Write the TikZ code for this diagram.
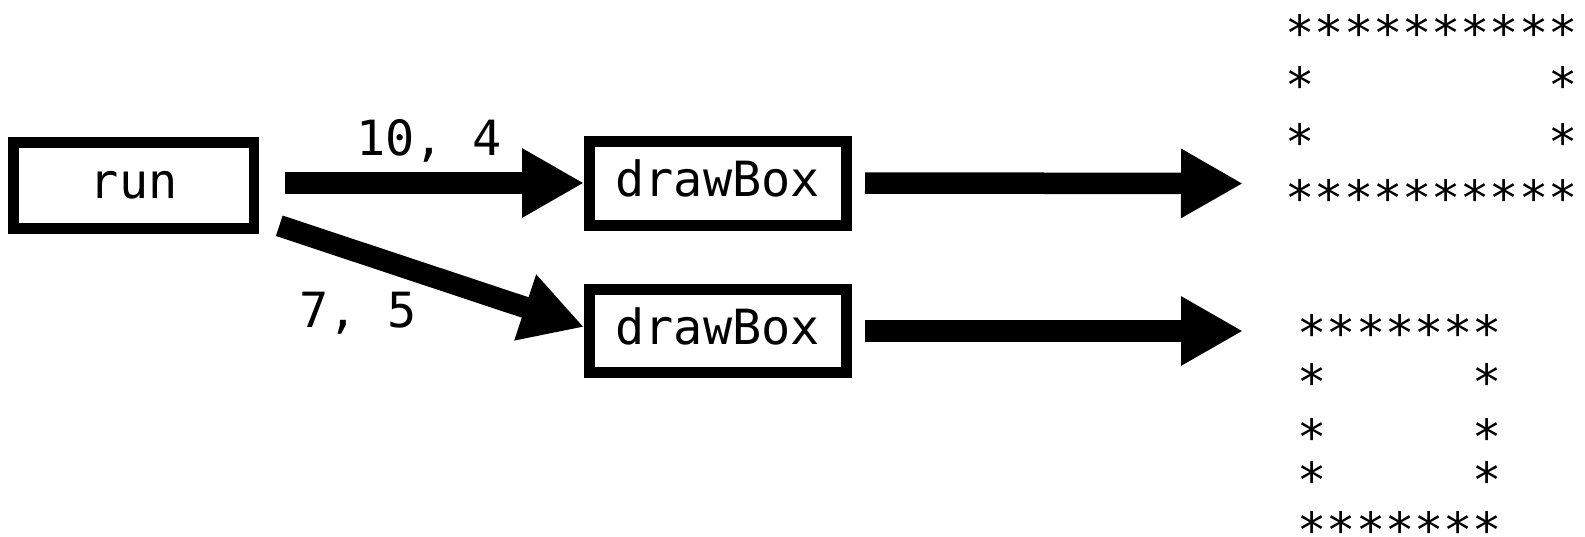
\documentclass[tikz,border=0pt]{standalone}
\usepackage{fontspec}
\usetikzlibrary{arrows.meta}
\newfontfamily\codefont{DejaVu Sans Mono}
\tikzset{
  code/.style={font=\codefont\fontsize{48.5}{58}\selectfont, inner sep=0pt},
  callbox/.style={code, draw, line width=10.5pt, minimum height=86pt,
    text height=26pt, text depth=0pt},
  bigarrow/.style={line width=21.5pt, -{Triangle[width=65pt,length=62pt]}},
  starrow/.style={code, anchor=base west},
}
\begin{document}
\begin{tikzpicture}[x=1pt,y=-1pt]
\useasboundingbox (0,0) rectangle (1585,536);
% call boxes
\node[callbox, minimum width=240.5pt] (run) at (133.75,185.5) {run};
\node[callbox, line width=11pt, minimum width=256.5pt, minimum height=84pt] (box1) at (717.75,183) {drawBox};
\node[callbox, line width=11pt, minimum width=256.5pt, minimum height=83pt] (box2) at (717.75,331) {drawBox};
% argument labels
\node[code, anchor=base] (arg1) at (429,155) {10, 4};
\node[code, anchor=base] (arg2) at (358,327) {7, 5};
% calls
\draw[bigarrow, shorten <=26pt] (run.east |- box1.west) -- (box1.west);
\coordinate (d0) at ([shift={(20,-8)}]run.south east);
\draw[bigarrow] (d0) -- ([yshift=4pt]box2.west);
% printed output
\coordinate (t1) at (1243,183.5);
\coordinate (t2) at (1243,331);
\draw[bigarrow, shorten <=13.5pt] (box1.east) -- (t1);
\draw[bigarrow, shorten <=13.5pt] (box2.east) -- (t2);
% 10 x 4 box of stars
\node[starrow] (a1) at (1285.4,50.6) {**********};
\node[starrow] (a2) at (1285.4,102.6) {*\phantom{********}*};
\node[starrow] (a3) at (1285.4,159.6) {*\phantom{********}*};
\node[starrow] (a4) at (1285.4,215.6) {**********};
% 7 x 5 box of stars
\node[starrow] (b1) at (1297.4,350.6) {*******};
\node[starrow] (b2) at (1297.4,399.6) {*\phantom{*****}*};
\node[starrow] (b3) at (1297.4,454.6) {*\phantom{*****}*};
\node[starrow] (b4) at (1297.4,497.6) {*\phantom{*****}*};
\node[starrow] (b5) at (1297.4,547.6) {*******};
\end{tikzpicture}
\end{document}
